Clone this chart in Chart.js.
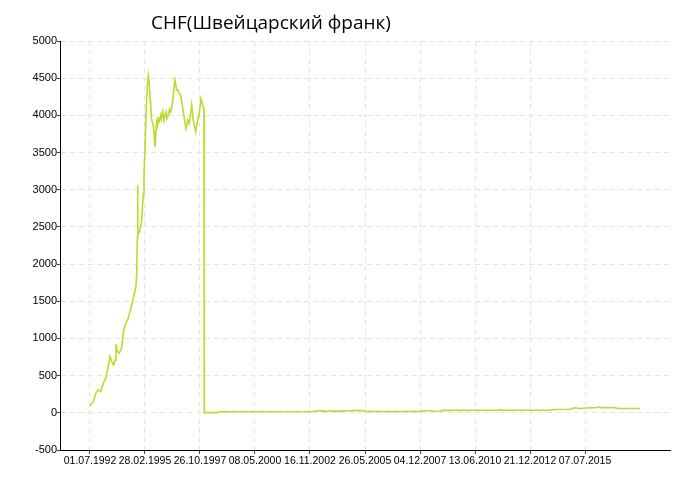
<!DOCTYPE html>
<html><head><meta charset="utf-8">
<script src="https://cdn.jsdelivr.net/npm/chart.js@4/dist/chart.umd.min.js"></script>
<style>html,body{margin:0;padding:0;background:#fff}#wrap{width:700px;height:500px}</style>
</head><body><div id="wrap"><canvas id="c" width="700" height="500"></canvas></div>
<script>
const titleText = 'CHF(Швейцарский франк)';
const tickLabels = ['01.07.1992','28.02.1995','26.10.1997','08.05.2000','16.11.2002','26.05.2005','04.12.2007','13.06.2010','21.12.2012','07.07.2015'];
const yTicks = [-500, 5000, 500];
// x position in units of label intervals (0 = first label), value of the rate
const xPos = [0,0.06,0.109,0.151,0.195,0.242,0.285,0.322,0.364,0.395,0.431,0.455,0.473,0.496,0.533,0.576,0.605,0.636,0.685,0.727,0.758,0.787,0.818,0.836,0.851,0.86,0.865,0.873,0.891,0.909,0.94,0.969,0.982,1.0,1.018,1.031,1.042,1.06,1.078,1.096,1.104,1.122,1.133,1.151,1.164,1.182,1.2,1.213,1.228,1.242,1.262,1.285,1.3,1.322,1.345,1.36,1.382,1.4,1.424,1.445,1.467,1.496,1.527,1.545,1.576,1.6,1.618,1.649,1.678,1.715,1.745,1.776,1.805,1.849,1.878,1.922,1.951,1.987,2.018,2.049,2.067,2.073,2.078,2.327,2.345,4.06,4.151,4.273,4.395,4.485,4.696,4.849,4.969,5.031,6.0,6.122,6.242,6.364,6.424,7.455,7.485,7.509,8.364,8.424,8.727,8.782,8.818,8.909,9.031,9.218,9.242,9.273,9.545,9.606,10.0];
const rates = [90,150,265,309,286,399,466,577,756,689,645,712,922,823,802,869,1070,1182,1249,1360,1450,1540,1629,1700,1900,2350,3060,2400,2420,2460,2590,2950,3200,3550,4025,4226,4400,4530,4420,4200,4137,3935,3912,3868,3778,3576,3780,3912,3860,3958,3920,4002,3950,4047,3935,4000,4047,3960,4002,4080,4047,4137,4361,4472,4338,4340,4293,4271,4137,3958,3823,3935,3890,4137,3935,3778,3912,4025,4226,4137,4092,4092,2,3,15,17,30,20,28,20,28,33,28,17,20,32,22,25,33,35,42,35,35,45,47,62,68,58,65,72,80,70,68,58,58];

const titlePlugin = {
  id: 'customTitle',
  afterDraw(chart) {
    const ctx = chart.ctx;
    ctx.save();
    ctx.font = '19px "Open Sans"';
    ctx.fillStyle = '#000';
    ctx.textAlign = 'center';
    ctx.textBaseline = 'middle';
    ctx.fillText(titleText, 271, 24);
    ctx.restore();
  }
};

const tickFont = '"Liberation Sans", Arial, sans-serif';

new Chart(document.getElementById('c'), {
  type: 'line',
  data: {
    datasets: [{
      data: xPos.map((x, i) => ({x: x, y: rates[i]})),
      borderColor: '#b8dc2a',
      borderWidth: 1.6,
      pointRadius: 0,
      tension: 0,
      fill: false
    }]
  },
  options: {
    responsive: false,
    animation: false,
    layout: {padding: {top: 41, right: 30, left: 0, bottom: 0}},
    plugins: {legend: {display: false}, tooltip: {enabled: false}, title: {display: false}},
    scales: {
      x: {
        type: 'linear',
        min: -0.545,
        max: 10.545,
        afterBuildTicks: s => { s.ticks = tickLabels.map((_, i) => ({value: i})); },
        afterFit: s => { s.height = 50; },
        ticks: {
          autoSkip: false, maxRotation: 0, minRotation: 0,
          callback: v => tickLabels[v],
          font: {family: tickFont, size: 10.5},
          color: '#000', padding: 1
        },
        grid: {color: '#e4e4e4', tickColor: '#444', tickLength: 4},
        border: {color: '#000', width: 1, dash: [5, 4]}
      },
      y: {
        min: yTicks[0], max: yTicks[1],
        afterFit: s => { s.width = 60; },
        ticks: {
          stepSize: yTicks[2],
          callback: v => String(v),
          font: {family: tickFont, size: 11},
          color: '#000', padding: 0
        },
        grid: {color: '#e4e4e4', tickColor: '#444', tickLength: 3},
        border: {color: '#000', width: 1, dash: [5, 4]}
      }
    }
  },
  plugins: [titlePlugin]
});
</script></body></html>
